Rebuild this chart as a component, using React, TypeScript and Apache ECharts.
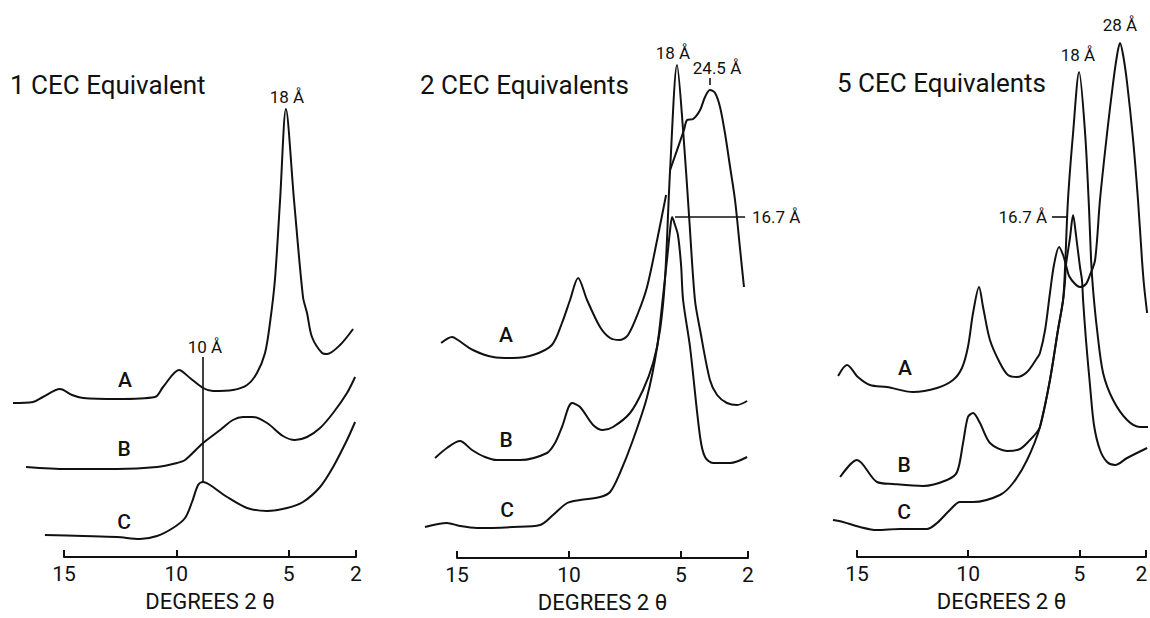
import React, { useEffect, useRef } from 'react';
import * as echarts from 'echarts';

// 2θ tick values (axis runs from 15 down to 2)
const TICKS = [15, 10, 5, 2];
const AXIS_NAME = 'DEGREES 2 θ';
const PANEL_TITLES = ['1 CEC Equivalent', '2 CEC Equivalents', '5 CEC Equivalents'];
const TRACE_NAMES = ['A', 'B', 'C'];

// Traces: [2θ (degrees), relative intensity]; null intensity = pen lift
const P1_A = [[17.27,154],[16.38,155],[15.94,160],[15.18,168],[14.64,162],[14.15,159],[12.64,158],[10.95,160],[10.59,170],[9.88,187],[9.39,179],[8.81,169],[8.37,166],[7.48,167],[6.85,172],[6.41,184],[6.05,204],[5.83,234],[5.61,277],[5.38,357],[5.12,448],[4.76,357],[4.36,260],[4.18,244],[3.96,220],[3.51,204],[3.29,203],[2.71,212],[2.13,228]];
const P1_B = [[16.69,90],[14.87,88],[12.64,88],[10.86,90],[9.97,94],[9.61,97],[8.81,114],[8.05,127],[7.48,137],[7.03,140],[6.59,140],[5.96,134],[5.25,121],[4.72,117],[4.18,120],[3.60,129],[3.02,144],[2.40,164],[2.04,180]];
const P1_C = [[15.85,22],[14.15,21],[12.64,20],[11.62,18],[10.86,21],[10.15,29],[9.61,39],[9.30,55],[9.03,72],[8.81,75],[8.50,72],[7.74,60],[6.85,49],[5.96,46],[5.07,49],[4.36,55],[3.60,70],[3.02,90],[2.40,117],[2.04,135]];

const P2_A = [[15.71,215],[15.22,221],[14.96,218],[14.29,208],[13.39,201],[12.50,200],[11.60,203],[10.76,213],[10.31,235],[9.95,258],[9.59,280],[9.19,258],[8.61,231],[8.16,220],[7.72,218],[7.36,223],[6.91,245],[6.51,271],[6.06,318],[5.66,363],[5.57,null],[5.48,388],[4.86,428],[4.72,438],[4.45,439],[4.14,448],[3.92,461],[3.70,468],[3.47,465],[3.25,451],[3.03,425],[2.80,391],[2.58,358],[2.35,308],[2.18,271]];
const P2_B = [[15.98,100],[15.45,110],[14.87,117],[14.33,108],[13.75,101],[13.21,98],[12.18,98],[10.98,105],[10.62,115],[10.31,131],[9.86,155],[9.50,151],[8.92,133],[8.48,128],[8.03,131],[7.27,145],[6.69,168],[6.24,195],[5.93,228],[5.71,278],[5.48,388],[5.17,493],[4.90,428],[4.63,341],[4.37,258],[4.14,228],[3.70,178],[3.38,163],[2.94,155],[2.49,153],[2.04,157]];
const P2_C = [[16.43,31],[15.45,35],[14.87,32],[14.11,30],[12.50,31],[11.29,33],[10.71,43],[10.08,55],[9.50,58],[8.61,61],[8.16,66],[7.72,85],[7.14,118],[6.51,161],[6.06,211],[5.80,261],[5.62,298],[5.48,328],[5.39,341],[5.26,333],[5.13,323],[4.99,293],[4.90,258],[4.59,211],[4.14,121],[3.92,101],[3.56,95],[2.80,95],[2.04,101]];

const P3_A = [[15.85,181],[15.45,192],[14.96,180],[14.42,172],[13.65,170],[12.48,165],[11.40,169],[10.68,177],[10.28,189],[10.01,210],[9.78,244],[9.51,270],[9.33,250],[9.02,217],[8.57,194],[8.21,182],[7.81,180],[7.35,185],[6.90,199],[6.77,204],[6.54,227],[6.32,264],[6.14,292],[5.91,310],[5.73,302],[5.60,292],[5.46,281],[5.19,273],[4.97,270],[4.70,273],[4.52,282],[4.29,297],[4.07,357],[3.75,424],[3.48,474],[3.30,502],[3.17,514],[3.03,502],[2.85,474],[2.58,417],[2.36,357],[2.18,297],[2.09,272],[1.95,244]];
const P3_B = [[15.76,80],[15.00,97],[14.10,75],[13.38,73],[12.03,71],[10.95,77],[10.50,85],[10.23,114],[10.01,140],[9.78,144],[9.47,134],[9.02,114],[8.25,106],[7.67,108],[7.22,117],[6.90,125],[6.77,130],[6.32,177],[5.96,227],[5.73,257],[5.64,290],[5.51,357],[5.28,424],[5.01,485],[4.74,424],[4.56,347],[4.47,297],[4.38,267],[4.20,227],[3.93,184],[3.48,157],[2.85,137],[2.27,130],[1.91,130]];
const P3_C = [[16.08,37],[15.63,35],[14.87,30],[14.10,27],[13.07,28],[11.85,28],[11.40,34],[10.82,47],[10.37,55],[9.78,55],[8.57,62],[7.98,74],[7.35,97],[6.77,130],[6.32,177],[5.96,227],[5.73,257],[5.64,277],[5.60,292],[5.42,319],[5.28,342],[5.15,322],[4.97,290],[4.88,277],[4.83,257],[4.70,217],[4.52,172],[4.34,132],[4.07,107],[3.75,95],[3.39,92],[2.85,99],[1.95,109]];

const PANELS = [
  [P1_A, P1_B, P1_C],
  [P2_A, P2_B, P2_C],
  [P3_A, P3_B, P3_C],
];

// reference lines in data coordinates: [[θ1, v1], [θ2, v2]]
const REF_LINES = [
  [[[8.81, 200], [8.81, 75]]],
  [[[5.26, 341], [2.13, 341]], [[3.70, 473], [3.70, 480]]],
  [[[6.23, 340], [5.51, 340]]],
];

// 2θ range that the recorder traces span (wider than the drawn axis)
const TRACE_MIN = 1.8;
const TRACE_MAX = 17.5;
const AXIS_MIN = 2;
const AXIS_MAX = 15;
const Y_MAX = 550;

const FONT = 'Roboto, "DejaVu Sans", sans-serif';
const INK = '#111';

const GRIDS = [
  { left: 64, top: 7, width: 292, height: 550 },
  { left: 457, top: 8, width: 291, height: 550 },
  { left: 857, top: 7, width: 289, height: 550 },
];

function txt(text: string, x: number, y: number, size: number, align = 'center', weight = 'normal') {
  return {
    type: 'text',
    x,
    y,
    silent: true,
    style: {
      text,
      fill: INK,
      font: `${weight} ${size}px ${FONT}`,
      align,
      verticalAlign: 'middle',
      textAlign: align,
      textVerticalAlign: 'middle',
    },
  };
}

function buildOption() {
  // data grids: same scale as the axis grids, but wide enough for the full traces
  const dataGrids = GRIDS.map((g) => {
    const ppd = g.width / (AXIS_MAX - AXIS_MIN);
    return {
      left: g.left - (TRACE_MAX - AXIS_MAX) * ppd,
      top: g.top,
      width: (TRACE_MAX - TRACE_MIN) * ppd,
      height: g.height,
    };
  });
  const grid = [...GRIDS, ...dataGrids].map((g) => ({ ...g, containLabel: false, outerBoundsMode: 'none' }));

  const series: any[] = [];
  PANELS.forEach((traces, pi) => {
    traces.forEach((tr, ti) => {
      const s: any = {
        type: 'line',
        name: `${PANEL_TITLES[pi]} ${TRACE_NAMES[ti]}`,
        xAxisIndex: pi + 3,
        yAxisIndex: pi + 3,
        data: tr.map((p) => (p[1] === null ? [p[0], '-'] : p)),
        showSymbol: false,
        symbol: 'none',
        smooth: 0.3,
        clip: false,
        connectNulls: false,
        silent: true,
        lineStyle: { color: INK, width: 2 },
      };
      if (ti === 0) {
        s.markLine = {
          silent: true,
          symbol: ['none', 'none'],
          label: { show: false },
          lineStyle: { color: INK, width: 1.6, type: 'solid' },
          data: REF_LINES[pi].map((seg) => [{ coord: seg[0] }, { coord: seg[1] }]),
        };
      }
      series.push(s);
    });
  });

  const visibleX = GRIDS.map((_, i) => ({
    type: 'value',
    gridIndex: i,
    min: AXIS_MIN,
    max: AXIS_MAX,
    inverse: true,
    name: AXIS_NAME,
    nameLocation: 'middle',
    nameGap: 33,
    nameTextStyle: { color: INK, fontFamily: FONT, fontSize: 22 },
    axisLine: { show: true, onZero: false, lineStyle: { color: INK, width: 2 } },
    axisTick: { show: true, inside: true, length: 7, customValues: TICKS, lineStyle: { color: INK, width: 2 } },
    axisLabel: {
      show: true,
      customValues: TICKS,
      color: INK,
      fontFamily: FONT,
      fontSize: 21,
      margin: 6,
      showMinLabel: true,
      showMaxLabel: true,
      // keep the last panel's rightmost label inside the page
      formatter: i === 2 ? (v: number) => (v === AXIS_MIN ? `{r|${v}}` : `${v}`) : undefined,
      rich: { r: { fontFamily: FONT, fontSize: 21, color: INK, padding: [0, 9, 0, 0] } },
    },
    splitLine: { show: false },
  }));
  const dataX = GRIDS.map((_, i) => ({
    type: 'value',
    gridIndex: i + 3,
    min: TRACE_MIN,
    max: TRACE_MAX,
    inverse: true,
    show: false,
  }));
  const yAxis = [...GRIDS, ...GRIDS].map((_, i) => ({ type: 'value', gridIndex: i, min: 0, max: Y_MAX, show: false }));

  const graphic = [
    txt(PANEL_TITLES[0], 10, 85, 26, 'left'),
    txt(PANEL_TITLES[1], 420, 85, 26, 'left'),
    txt(PANEL_TITLES[2], 837, 83, 26, 'left'),
    txt('18 Å', 287, 97, 17),
    txt('10 Å', 205, 347, 17),
    txt('18 Å', 673, 53, 17),
    txt('24.5 Å', 717, 68, 17),
    txt('16.7 Å', 752, 217, 17, 'left'),
    txt('18 Å', 1078, 55, 17),
    txt('28 Å', 1120, 25, 17),
    txt('16.7 Å', 1047, 217, 17, 'right'),
    txt('A', 125, 380, 21, 'center', '500'), txt('B', 124, 449, 21, 'center', '500'), txt('C', 124, 522, 21, 'center', '500'),
    txt('A', 506, 335, 21, 'center', '500'), txt('B', 506, 440, 21, 'center', '500'), txt('C', 507, 510, 21, 'center', '500'),
    txt('A', 905, 368, 21, 'center', '500'), txt('B', 904, 465, 21, 'center', '500'), txt('C', 904, 512, 21, 'center', '500'),
  ];

  return {
    animation: false,
    backgroundColor: '#fff',
    grid,
    xAxis: [...visibleX, ...dataX],
    yAxis,
    series,
    graphic,
  };
}

export default function App() {
  const ref = useRef<HTMLDivElement>(null);
  useEffect(() => {
    const chart = echarts.init(ref.current as HTMLDivElement, null, { renderer: 'svg' });
    chart.setOption(buildOption() as any);
    return () => chart.dispose();
  }, []);
  return (
    <div
      ref={ref}
      style={{ position: 'absolute', left: 0, top: 0, width: 1150, height: 618, background: '#fff' }}
    />
  );
}
